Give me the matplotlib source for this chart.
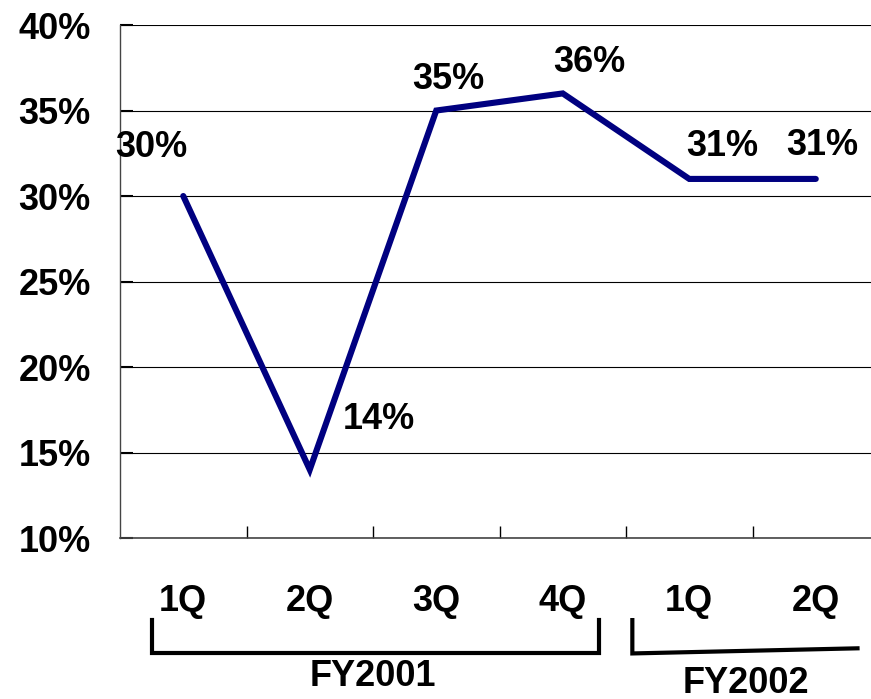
import matplotlib.pyplot as plt
from matplotlib.lines import Line2D
from matplotlib.ticker import FixedLocator

quarters = ["1Q", "2Q", "3Q", "4Q", "1Q", "2Q"]
values = [30, 14, 35, 36, 31, 31]
labels = ["30%", "14%", "35%", "36%", "31%", "31%"]
# label offsets from the point, in points (dx, dy)
label_offsets = [(-23, 35), (50, 36), (9, 22), (19, 22), (24, 23), (5, 24)]
years = ["FY2001", "FY2002"]
year_groups = [(0, 3), (4, 5)]

plt.rcParams['font.family'] = ['Liberation Sans', 'DejaVu Sans']
plt.rcParams['font.weight'] = 'bold'
fs = 26

fig = plt.figure(figsize=(8.71, 6.99), dpi=100)
ax = fig.add_axes([0.1378, 0.2303, 0.8714, 0.7339])

x = list(range(len(values)))
ax.plot(x, values, color='#000080', lw=4.4, solid_joinstyle='miter',
        solid_capstyle='round', zorder=3)

for xi, v, lab, (dx, dy) in zip(x, values, labels, label_offsets):
    ax.annotate(lab, (xi, v), xytext=(dx, dy), textcoords='offset points',
                ha='center', va='center', fontsize=fs, fontweight='bold')

ax.set_xlim(-0.5, len(values) - 0.5)
ax.set_ylim(10, 40)
ax.set_yticks(range(10, 41, 5))
ax.set_yticklabels([f"{t}%" for t in range(10, 41, 5)], fontsize=fs, fontweight='bold')
ax.set_xticks(x)
ax.set_xticklabels(quarters, fontsize=fs, fontweight='bold')
ax.xaxis.set_minor_locator(FixedLocator([i + 0.5 for i in range(len(values) - 1)]))
ax.tick_params(axis='x', which='major', length=0, pad=33)
ax.tick_params(axis='x', which='minor', direction='in', length=9, width=1, color='black')
ax.tick_params(axis='y', direction='in', length=9, width=1.5, pad=21, color='black')

ax.grid(axis='y', color='black', lw=0.8)
ax.set_axisbelow(True)
for s in ['top', 'right']:
    ax.spines[s].set_visible(False)
ax.spines['left'].set_color('#444444')
ax.spines['bottom'].set_color('#444444')
ax.spines['left'].set_linewidth(1)
ax.spines['bottom'].set_linewidth(1.2)

# year brackets under the quarter labels (y in axes fraction)
ytop, ybot = -0.16, -0.225
tr = ax.get_xaxis_transform()
b1 = year_groups[0]
ax.add_line(Line2D([b1[0] - 0.25, b1[0] - 0.25, b1[1] + 0.29, b1[1] + 0.29],
                   [ytop, ybot, ybot, ytop], transform=tr, color='black',
                   lw=3, clip_on=False, solid_joinstyle='miter'))
b2 = year_groups[1]
ax.add_line(Line2D([b2[0] - 0.45, b2[0] - 0.45, b2[1] + 0.33],
                   [ytop, ybot, ybot + 0.01], transform=tr, color='black',
                   lw=3, clip_on=False, solid_joinstyle='miter'))
ax.text((b1[0] + b1[1]) / 2, -0.27, years[0], transform=tr, ha='center',
        va='center', fontsize=fs, fontweight='bold')
ax.text((b2[0] + b2[1]) / 2 - 0.05, -0.283, years[1], transform=tr, ha='center',
        va='center', fontsize=fs, fontweight='bold')

fig.savefig("out.png", dpi=100)
